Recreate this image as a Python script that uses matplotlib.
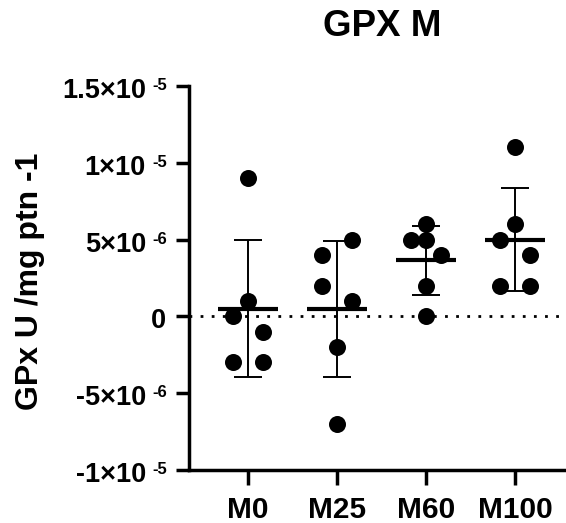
import matplotlib
matplotlib.use("Agg")
import matplotlib.pyplot as plt
import numpy as np

plt.rcParams['font.family'] = ['Liberation Sans', 'DejaVu Sans']
plt.rcParams['font.weight'] = 'bold'

# ---- data ----
categories = ["M0", "M25", "M60", "M100"]
m0 = [9e-6, 1e-6, 0.0, -1e-6, -3e-6, -3e-6]
m25 = [5e-6, 4e-6, 2e-6, 1e-6, -2e-6, -7e-6]
m60 = [6e-6, 5e-6, 5e-6, 4e-6, 2e-6, 0.0]
m100 = [11e-6, 6e-6, 5e-6, 4e-6, 2e-6, 2e-6]
groups = [m0, m25, m60, m100]
ytick_values = [-1e-5, -5e-6, 0, 5e-6, 1e-5, 1.5e-5]
ytick_mantissa = ["-1×10", "-5×10", "0", "5×10", "1×10", "1.5×10"]
ytick_exponent = ["-5", "-6", "", "-6", "-5", "-5"]
title = "GPX M"
ylabel = "GPx U /mg ptn -1"

# ---- layout (beeswarm side offsets, in units of spread) ----
offsets = [[0, 0, -1, 1, -1, 1],
           [1, -1, -1, 1, 0, 0],
           [0, -1, 0, 1, 0, 0],
           [0, 0, -1, 1, -1, 1]]
spread = 0.17

W, H = 566, 523
fig = plt.figure(figsize=(W / 100, H / 100), dpi=100)
ax = fig.add_axes([189 / W, 1 - 470 / H, (566 - 189) / W, (470 - 86) / H])

for i, (vals, offs) in enumerate(zip(groups, offsets)):
    vals = np.array(vals)
    xs = i + spread * np.array(offs)
    ax.scatter(xs, vals, s=150, color='black', zorder=3, linewidths=0)
    mean = vals.mean()
    sd = vals.std(ddof=1)
    ax.errorbar([i], [mean], yerr=[sd], fmt='none', ecolor='black',
                elinewidth=1.4, capsize=10.4, capthick=1.4, zorder=4)
    ax.plot([i - 0.34, i + 0.34], [mean, mean], color='black', lw=3.0,
            solid_capstyle='butt', zorder=5)

ax.axhline(0, color='black', lw=2, linestyle=(0, (1, 3)), zorder=2)

ax.set_xlim(-0.663, 3.573)
ax.set_ylim(-1e-5, 1.5e-5)
ax.set_xticks(range(len(categories)))
ax.set_xticklabels(categories, fontsize=21.5, fontweight='bold')
ax.set_yticks(ytick_values)
ax.set_yticklabels([])

for s in ['top', 'right']:
    ax.spines[s].set_visible(False)
for s in ['left', 'bottom']:
    ax.spines[s].set_linewidth(2.5)
ax.tick_params(axis='y', length=9.5, width=2.5)
ax.tick_params(axis='x', length=11, width=2.5, pad=8)

# y tick labels with Prism-style small exponents
trans = ('axes fraction', 'data')
for v, mant, expo in zip(ytick_values, ytick_mantissa, ytick_exponent):
    if expo:
        ax.annotate(mant, xy=(0, v), xycoords=trans, xytext=(-31, -8.6),
                    textcoords='offset points', ha='right', va='baseline',
                    fontsize=19.5, fontweight='bold', annotation_clip=False)
        ax.annotate(expo, xy=(0, v), xycoords=trans, xytext=(-16.0, -2.9),
                    textcoords='offset points', ha='right', va='baseline',
                    fontsize=12, fontweight='bold', annotation_clip=False)
    else:
        ax.annotate(mant, xy=(0, v), xycoords=trans, xytext=(-16.5, -8.6),
                    textcoords='offset points', ha='right', va='baseline',
                    fontsize=19.5, fontweight='bold', annotation_clip=False)

fig.text(30 / W, 1 - 281 / H, ylabel, rotation=90, ha='center', va='center',
         fontsize=23, fontweight='bold')
fig.text(382 / W, 1 - 36 / H, title, ha='center', va='baseline',
         fontsize=26.5, fontweight='bold')

fig.savefig("out.png", dpi=100)
